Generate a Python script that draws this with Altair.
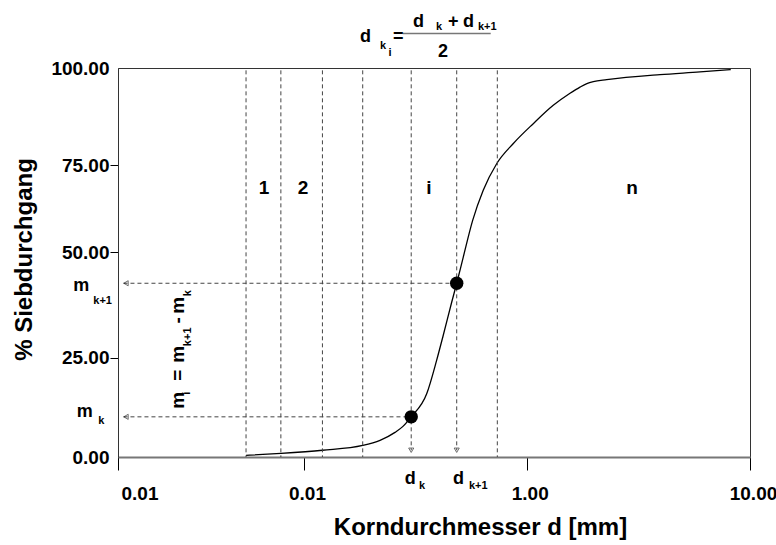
import altair as alt
import pandas as pd

# ---------------- data ----------------
# grain size distribution curve: diameter [mm] and % passing
curve_d = [0.0488, 0.0751, 0.121, 0.1835, 0.2195, 0.2563, 0.2782, 0.303, 0.3556,
           0.394, 0.422, 0.4604, 0.485, 0.519, 0.572, 0.638, 0.733, 0.871, 1.07,
           1.315, 1.563, 1.733, 1.86, 1.988, 2.282, 3.954, 5.97, 8.2]
curve_p = [0.4, 0.9, 1.7, 2.9, 4.2, 6.2, 7.7, 10.1, 15.9,
           24.3, 30.3, 38.1, 42.6, 48.8, 59.1, 67.8, 75.4, 80.6, 85.7,
           90.4, 93.5, 95.1, 96.0, 96.5, 97.0, 98.3, 99.0, 99.6]

# sieve class boundaries (dashed verticals)
sieve_d = [0.0488, 0.0751, 0.121, 0.1835, 0.303, 0.485, 0.738]
sieve_top = [99.4, 99.4, 99.4, 99.4, 99.4, 99.4, 99.4]
sieve_bottom = [0, 0, 0, 0, 1.7, 1.7, 0]

# marked points d_k / d_k+1
marked_d = [0.303, 0.485]
marked_p = [10.1, 42.6]
guide_start_d = [0.0107, 0.0107]
arrow_left_d = [0.01104, 0.01104]
arrow_down_p = [1.7, 1.7]

# class labels
class_text = ["1", "2", "i", "n"]
class_d = [0.06095, 0.09877, 0.364, 2.962]
class_p = [68.4, 68.4, 68.4, 68.4]

# formula / annotation texts (main size)
main_text = ["d", "=", "d", "+", "d", "2", "m", "m", "d", "d"]
main_d = [0.1784, 0.2509, 0.3086, 0.4432, 0.5176, 0.3997, 0.005751, 0.006, 0.2836, 0.4667]
main_p = [106.68, 106.68, 110.53, 110.53, 110.53, 102.83, 40.81, 10.06, -6.69, -6.69]

# subscripts
sub_text = ["k", "i", "k", "k+1", "k+1", "k", "k", "k+1"]
sub_d = [0.2195, 0.2395, 0.3915, 0.6044, 0.007365, 0.007835, 0.3284, 0.5507]
sub_p = [104.98, 103.0, 109.69, 109.69, 37.74, 8.22, -8.12, -8.12]

# fraction bar of formula
frac_d = [0.2774]
frac_d2 = [0.6893]
frac_p = [108.84]

# rotated formula m_i = m_k+1 - m_k
rot_main_text = ["m", "=", "m", "-", "m"]
rot_main_d = [0.02263, 0.02263, 0.02263, 0.02263, 0.02263]
rot_main_p = [14.26, 20.55, 25.78, 33.83, 37.38]
rot_sub_text = ["i", "k+1", "k"]
rot_sub_d = [0.02438, 0.02469, 0.02469]
rot_sub_p = [16.03, 29.92, 40.22]

x_tick_values = [0.01, 0.1, 1, 10]
x_tick_labels = ["0.01", "0.01", "1.00", "10.00"]
y_tick_values = [0, 25, 50, 75, 100]

# ---------------- tables ----------------
curve_df = pd.DataFrame({"x": curve_d, "y": curve_p})
sieve_df = pd.DataFrame({"x": sieve_d, "y": sieve_top, "y2": sieve_bottom})
guide_df = pd.DataFrame({"x": guide_start_d, "x2": marked_d, "y": marked_p})
pts_df = pd.DataFrame({"x": marked_d, "y": marked_p})
arr_down_df = pd.DataFrame({"x": marked_d, "y": arrow_down_p})
arr_left_df = pd.DataFrame({"x": arrow_left_d, "y": marked_p})
class_df = pd.DataFrame({"x": class_d, "y": class_p, "t": class_text})
main_df = pd.DataFrame({"x": main_d, "y": main_p, "t": main_text})
sub_df = pd.DataFrame({"x": sub_d, "y": sub_p, "t": sub_text})
frac_df = pd.DataFrame({"x": frac_d, "x2": frac_d2, "y": frac_p})
rot_main_df = pd.DataFrame({"x": rot_main_d, "y": rot_main_p, "t": rot_main_text})
rot_sub_df = pd.DataFrame({"x": rot_sub_d, "y": rot_sub_p, "t": rot_sub_text})

FONT = "Liberation Sans, Arial, Helvetica, sans-serif"

xscale = alt.Scale(type="log", domain=x_tick_values, range=[0, 186, 408.7, 632], nice=False)
yscale = alt.Scale(type="linear", domain=y_tick_values, range=[389, 289.6, 184, 97.3, 0],
                   nice=False, zero=False)

label_list = "[" + ",".join("'" + s + "'" for s in x_tick_labels) + "]"
xaxis = alt.Axis(
    values=x_tick_values,
    labelExpr=label_list + "[round(log(datum.value)/LN10)+2]",
    title="Korndurchmesser d [mm]",
    grid=False, tickSize=13, tickColor="black", tickWidth=1,
    labelPadding=14, labelFont=FONT, labelFontWeight="bold", labelFontSize=19,
    labelColor="black", labelOverlap=False, labelOffset=3,
    labelAlign={"condition": {"test": "datum.value < 0.05", "value": "left"}, "value": "center"},
    domainColor="#777", domainWidth=2,
    titleFont=FONT, titleFontWeight="bold", titleFontSize=24, titleColor="black",
    titleX=362, titleY=77, titleAlign="center", titleBaseline="alphabetic",
)
yaxis = alt.Axis(
    values=y_tick_values, format=".2f",
    title="% Siebdurchgang",
    grid=False, tickSize=8, tickWidth=1,
    tickColor={"condition": {"test": "datum.value == 0 || datum.value == 100",
                             "value": "transparent"}, "value": "black"},
    labelPadding=1, labelFont=FONT, labelFontWeight="bold", labelFontSize=19,
    labelColor="black", labelOverlap=False,
    domainColor="#333", domainWidth=1,
    titleFont=FONT, titleFontWeight="bold", titleFontSize=24, titleColor="black",
    titleAngle=270, titleX=-87, titleY=191, titleAlign="center", titleBaseline="alphabetic",
)


def X():
    return alt.X("x:Q", scale=xscale, axis=xaxis)


def Y():
    return alt.Y("y:Q", scale=yscale, axis=yaxis)


dash = [4, 3]

sieve = alt.Chart(sieve_df).mark_rule(color="#444", strokeWidth=1, strokeDash=dash).encode(
    x=X(), y=Y(), y2="y2:Q")
guides = alt.Chart(guide_df).mark_rule(color="#444", strokeWidth=1, strokeDash=dash).encode(
    x=X(), x2="x2:Q", y=Y())
curve = alt.Chart(curve_df).mark_line(color="black", strokeWidth=1.3, interpolate="monotone").encode(
    x=X(), y=Y())
pts = alt.Chart(pts_df).mark_circle(color="black", size=180, opacity=1).encode(x=X(), y=Y())
arr_down = alt.Chart(arr_down_df).mark_point(shape="triangle-down", filled=False, color="black",
                                             size=26, strokeWidth=0.8).encode(x=X(), y=Y())
arr_left = alt.Chart(arr_left_df).mark_point(shape="triangle-left", filled=False, color="black",
                                             size=26, strokeWidth=0.8).encode(x=X(), y=Y())
frac = alt.Chart(frac_df).mark_rule(color="#777", strokeWidth=1.5).encode(x=X(), x2="x2:Q", y=Y())

classes = alt.Chart(class_df).mark_text(font=FONT, fontWeight="bold", fontSize=19, color="black",
                                        align="center", baseline="middle").encode(
    x=X(), y=Y(), text="t:N")
main_txt = alt.Chart(main_df).mark_text(font=FONT, fontWeight="bold", fontSize=18, color="black",
                                        align="left", baseline="alphabetic").encode(
    x=X(), y=Y(), text="t:N")
sub_txt = alt.Chart(sub_df).mark_text(font=FONT, fontWeight="bold", fontSize=11, color="black",
                                      align="left", baseline="alphabetic").encode(
    x=X(), y=Y(), text="t:N")
rot_main = alt.Chart(rot_main_df).mark_text(font=FONT, fontWeight="bold", fontSize=19, color="black",
                                            align="center", baseline="alphabetic", angle=270).encode(
    x=X(), y=Y(), text="t:N")
rot_sub = alt.Chart(rot_sub_df).mark_text(font=FONT, fontWeight="bold", fontSize=11, color="black",
                                          align="center", baseline="alphabetic", angle=270).encode(
    x=X(), y=Y(), text="t:N")

chart = alt.layer(
    curve, sieve, guides, frac, pts, arr_down, arr_left,
    classes, main_txt, sub_txt, rot_main, rot_sub,
).properties(
    width=632, height=389,
    autosize=alt.AutoSizeParams(type="none"),
    padding={"left": 118, "top": 68, "right": 26, "bottom": 88},
    background="white",
).configure_view(stroke="#333", strokeWidth=1)

chart.save("out.html", embed_options={"renderer": "svg", "actions": False})
